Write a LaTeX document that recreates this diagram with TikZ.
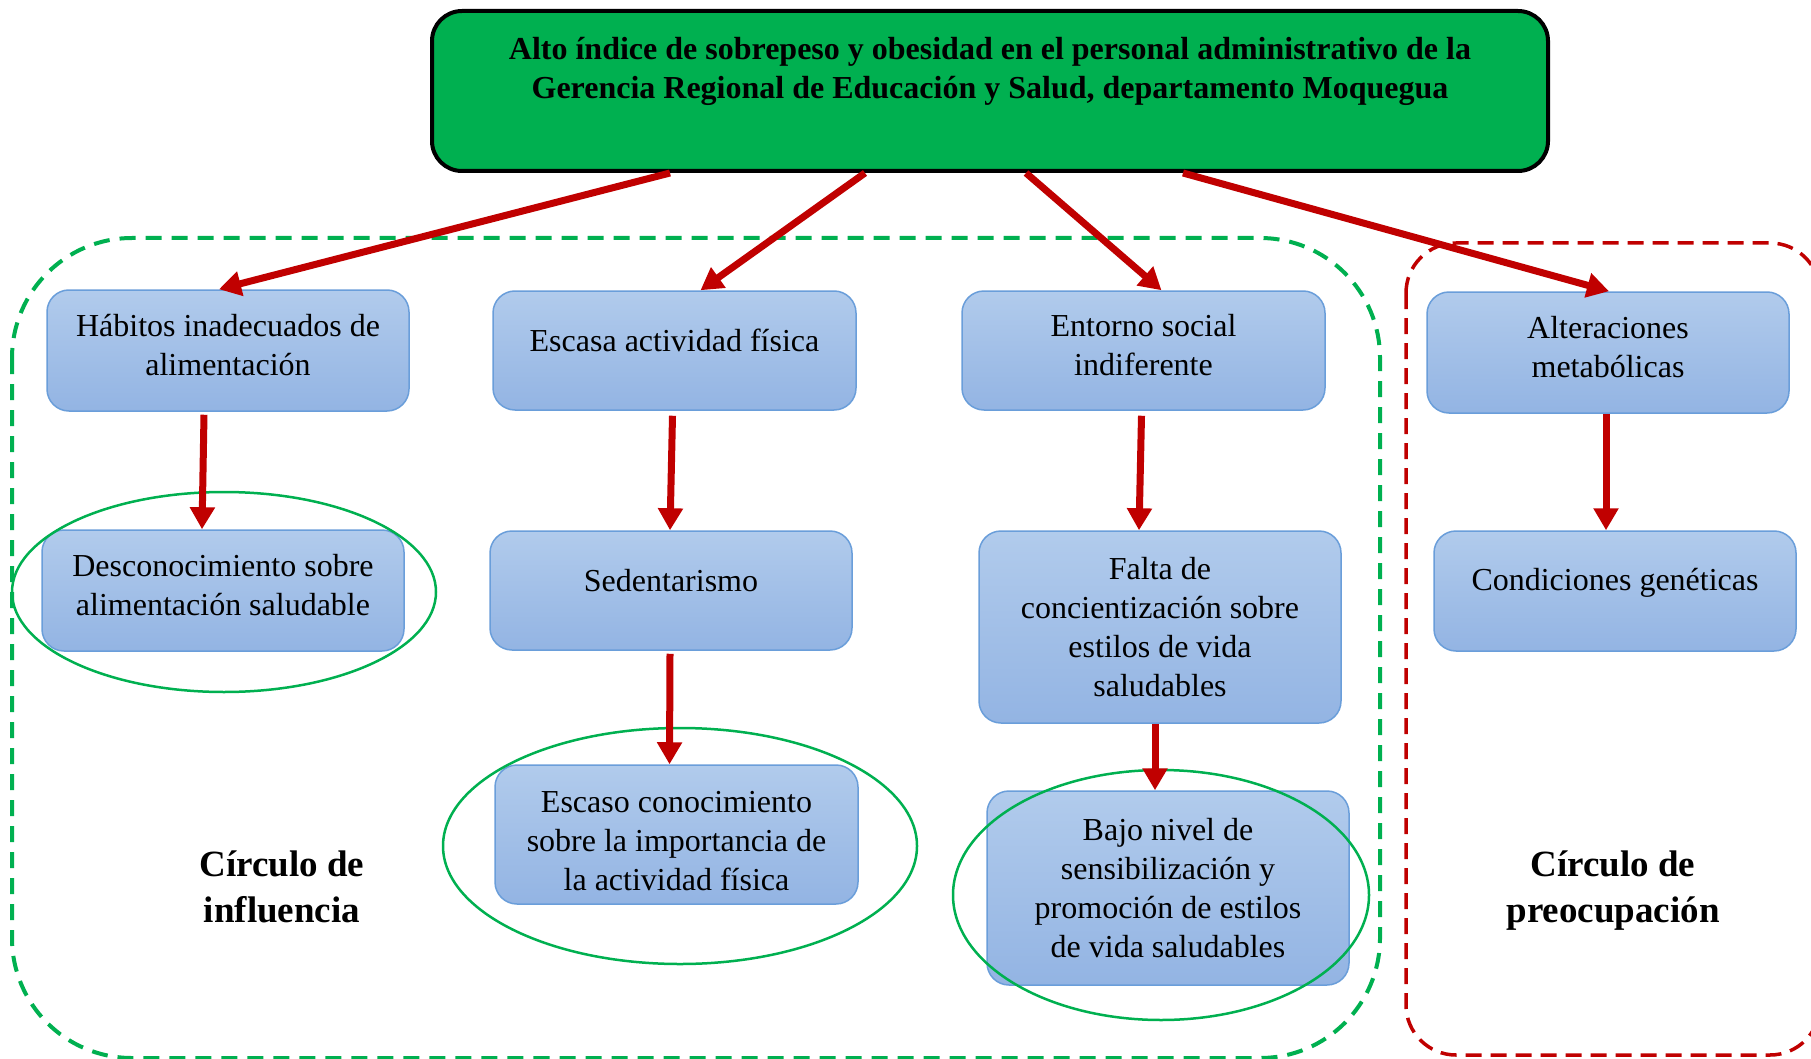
\documentclass[tikz,border=0pt]{standalone}
\usepackage{fontspec}
\setmainfont{Liberation Serif}
\usetikzlibrary{arrows.meta,shapes.geometric}
\definecolor{wgreen}{HTML}{00B050}
\definecolor{ared}{HTML}{C00000}
\definecolor{bluetop}{HTML}{B1CBEC}
\definecolor{bluebot}{HTML}{93B4E3}
\definecolor{blueline}{HTML}{6A9EDA}
\newcommand\liftby[2]{\raisebox{#1}[\height][\depth]{#2}}
\begin{document}
\begin{tikzpicture}[x=1pt,y=-1pt,
  bluebox/.style={rounded corners=22pt, draw=blueline, line width=1.5pt,
    top color=bluetop, bottom color=bluebot, align=center,
    font=\fontsize{32}{39}\selectfont, inner sep=0pt},
  topbox/.style={rounded corners=30pt, draw=black, line width=4pt, fill=wgreen, inner sep=0pt},
  redarrow/.style={draw=ared, line width=7pt, -{Triangle[width=24pt,length=22pt]}},
  gdash/.style={draw=wgreen, line width=4pt, dash pattern=on 16pt off 10pt},
  rdash/.style={draw=ared, line width=3.5pt, dash pattern=on 16pt off 9pt},
  oval/.style={draw=wgreen, line width=2.5pt},
  circlabel/.style={align=center, font=\fontsize{37}{46}\selectfont\bfseries}]
\useasboundingbox (0,0) rectangle (1811,1059);
\fill[white] (0,0) rectangle (1811,1059);

% regions
\draw[gdash, rounded corners=120pt] (12,238) rectangle (1380,1058);
\draw[rdash, rounded corners=50pt] (1406,243) rectangle (1820,1055);

% top box
\node[topbox, minimum width=1116pt, minimum height=160pt] (top) at (990,91) {};
\node[align=center, font=\fontsize{32}{39}\selectfont\bfseries] (toptext) at (990,71)
  {Alto índice de sobrepeso y obesidad en el personal administrativo de la\\
   Gerencia Regional de Educación y Salud, departamento Moquegua};

% boxes
\node[bluebox, minimum width=362pt, minimum height=121pt] (b1) at (228,350.5)
  {\liftby{5pt}{Hábitos inadecuados de}\\\liftby{5pt}{alimentación}};
\node[bluebox, minimum width=362pt, minimum height=121pt] (d1) at (223,590.5)
  {\liftby{5pt}{Desconocimiento sobre}\\\liftby{5pt}{alimentación saludable}};
\node[bluebox, minimum width=363pt, minimum height=119pt] (b2) at (674.5,350.5)
  {\liftby{10pt}{Escasa actividad física}};
\node[bluebox, minimum width=362pt, minimum height=119pt] (s2) at (671,590.5)
  {\liftby{10pt}{Sedentarismo}};
\node[bluebox, minimum width=363pt, minimum height=139pt] (e2) at (676.5,834.5)
  {\liftby{-7pt}{Escaso conocimiento}\\\liftby{-7pt}{sobre la importancia de}\\\liftby{-7pt}{la actividad física}};
\node[bluebox, minimum width=363pt, minimum height=119pt] (b3) at (1143.5,350.5)
  {\liftby{5pt}{Entorno social}\\\liftby{5pt}{indiferente}};
\node[bluebox, minimum width=362pt, minimum height=192pt] (f3) at (1160,627)
  {Falta de\\concientización sobre\\estilos de vida\\saludables};
\node[bluebox, minimum width=362pt, minimum height=194pt] (j3) at (1168,888)
  {Bajo nivel de\\sensibilización y\\promoción de estilos\\de vida saludables};
\node[bluebox, minimum width=362pt, minimum height=121pt] (b4) at (1608,352.5)
  {\liftby{5pt}{Alteraciones}\\\liftby{5pt}{metabólicas}};
\node[bluebox, minimum width=362pt, minimum height=120pt] (c4) at (1615,591)
  {\liftby{8pt}{Condiciones genéticas}};

% ovals
\draw[oval] (224,592) ellipse [x radius=212, y radius=100];
\draw[oval] (680,846) ellipse [x radius=237, y radius=118];
\draw[oval] (1161,895) ellipse [x radius=208, y radius=125];

% labels
\node[circlabel] (lab1) at (282,887) {Círculo de\\influencia};
\node[circlabel] (lab2) at (1613,891) {Círculo de\\preocupación};

% arrows from top
\draw[redarrow] ([xshift=240pt]top.south west) -- ([xshift=-9pt]b1.north);
\draw[redarrow] ([xshift=435pt]top.south west) -- ([xshift=26pt]b2.north);
\draw[redarrow] ([xshift=596pt]top.south west) -- ([xshift=18pt]b3.north);
\draw[redarrow] ([xshift=753pt]top.south west) -- ([xshift=1pt]b4.north);

% vertical arrows
\draw[redarrow] ([xshift=-24pt,yshift=-3pt]b1.south) -- ([xshift=-21pt]d1.north);
\draw[redarrow] ([xshift=-2pt,yshift=-5pt]b2.south) -- ([xshift=-1pt]s2.north);
\draw[redarrow] ([xshift=-1pt,yshift=-3pt]s2.south) -- ([xshift=-7pt]e2.north);
\draw[redarrow] ([xshift=-2pt,yshift=-5pt]b3.south) -- ([xshift=-21pt]f3.north);
\draw[redarrow] ([xshift=-5pt]f3.south) -- ([xshift=-13pt]j3.north);
\draw[redarrow] ([xshift=-2pt]b4.south) -- ([xshift=-9pt]c4.north);
\end{tikzpicture}
\end{document}
